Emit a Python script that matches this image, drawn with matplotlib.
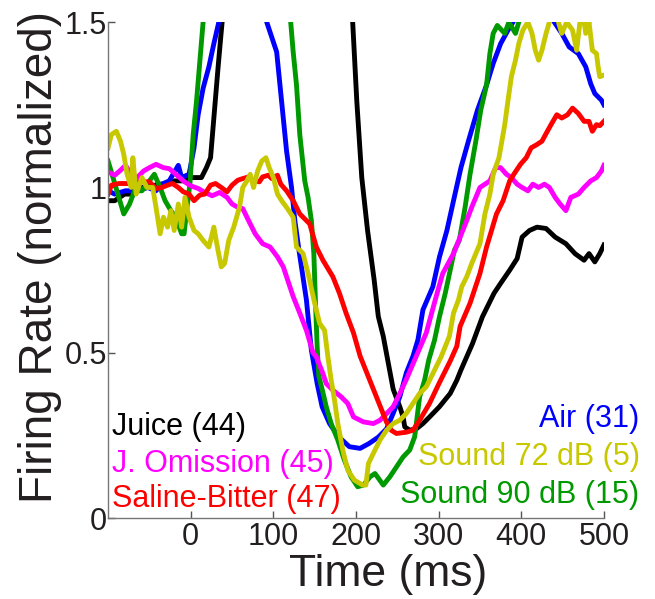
"""
plot.py - normalized firing rate traces for each outcome type.
"""
import matplotlib
matplotlib.use('Agg')  # no display
import matplotlib.pyplot as plt


# Series (time in ms, rate normalized)
juice_t = [-100, -92, -80, -70, -60, -50, -40, -30, -20, -10, 0, 13, 19, 24, 28,
           33, 36, 38, 60, 100, 150, 185, 196, 201, 207, 214, 222, 227, 233, 239,
           245, 253, 257, 259, 265, 273, 281, 289, 301, 314, 322, 327, 341, 353,
           367, 375, 386, 395, 401, 410, 419, 430, 441, 454, 465, 476, 482, 489,
           495, 500]
juice_v = [0.96, 0.96, 0.98, 0.98, 1.0, 1.0, 1.01, 1.01, 1.02, 1.02, 1.03, 1.03,
           1.06, 1.09, 1.21, 1.36, 1.445, 1.5, 1.9, 2.3, 2.3, 1.9, 1.5, 1.26,
           1.03, 0.87, 0.72, 0.61, 0.55, 0.47, 0.39, 0.337, 0.306, 0.276, 0.266,
           0.27, 0.286, 0.306, 0.337, 0.377, 0.417, 0.448, 0.528, 0.609, 0.68,
           0.71, 0.75, 0.785, 0.85, 0.87, 0.88, 0.876, 0.85, 0.83, 0.80, 0.78,
           0.80, 0.775, 0.80, 0.826]

omission_t = [-100, -92, -85, -79, -72, -66, -57, -50, -42, -33, -26, -18, -9, 0,
              9, 17, 26, 35, 44, 50, 57, 63, 70, 78, 87, 96, 105, 112, 116, 124,
              132, 140, 148, 152, 160, 164, 172, 182, 190, 197, 209, 221, 229,
              237, 245, 253, 261, 273, 285, 297, 305, 318, 326, 334, 340, 350,
              362, 369, 375, 382, 388, 395, 401, 408, 414, 421, 428, 434, 441,
              447, 454, 460, 469, 476, 484, 491, 497, 500]
omission_v = [1.047, 1.037, 1.052, 1.067, 1.04, 1.027, 1.05, 1.06, 1.07, 1.06,
              1.057, 1.04, 1.02, 1.005, 0.997, 0.985, 0.975, 0.985, 0.97, 0.95,
              0.94, 0.936, 0.90, 0.86, 0.83, 0.82, 0.79, 0.76, 0.73, 0.67, 0.62,
              0.568, 0.50, 0.488, 0.437, 0.407, 0.387, 0.367, 0.347, 0.306,
              0.291, 0.286, 0.296, 0.316, 0.337, 0.377, 0.42, 0.49, 0.56, 0.67,
              0.74, 0.80, 0.85, 0.90, 0.94, 1.0, 1.02, 1.06, 1.06, 1.04, 1.03,
              1.01, 1.0, 0.99, 1.01, 1.0, 1.01, 1.0, 0.97, 0.95, 0.93, 0.97,
              0.98, 1.0, 1.02, 1.03, 1.05, 1.067]

saline_t = [-100, -96, -87, -74, -61, -50, -42, -35, -28, -22, -15, -9, -2, 4,
            11, 17, 24, 30, 37, 44, 50, 57, 63, 70, 76, 83, 87, 94, 98, 105, 109,
            116, 124, 132, 144, 152, 160, 172, 180, 188, 197, 205, 213, 221, 229,
            237, 243, 249, 261, 269, 277, 289, 301, 314, 322, 326, 338, 350, 358,
            370, 378, 386, 391, 399, 406, 412, 419, 425, 430, 436, 443, 449, 456,
            462, 469, 476, 482, 486, 491, 495, 500]
saline_v = [0.98, 1.007, 1.012, 1.012, 1.017, 1.017, 0.997, 1.0, 1.007, 1.012,
            1.0, 0.987, 0.98, 0.96, 0.977, 0.98, 1.007, 1.012, 1.0, 0.987, 1.007,
            1.022, 1.027, 1.032, 1.022, 1.017, 1.032, 1.037, 1.027, 1.037, 1.01,
            0.99, 0.96, 0.92, 0.89, 0.82, 0.78, 0.73, 0.68, 0.62, 0.56, 0.49,
            0.44, 0.39, 0.34, 0.29, 0.265, 0.256, 0.26, 0.266, 0.296, 0.347,
            0.41, 0.475, 0.52, 0.58, 0.65, 0.74, 0.82, 0.92, 0.96, 1.02, 1.04,
            1.07, 1.09, 1.12, 1.13, 1.14, 1.163, 1.19, 1.22, 1.21, 1.22, 1.24,
            1.224, 1.2, 1.2, 1.17, 1.19, 1.187, 1.2]

air_t = [-100, -92, -79, -65, -52, -42, -35, -26, -15, -11, -2, 4, 9, 15, 22, 28,
         34, 60, 80, 92, 104, 108, 116, 122, 126, 131, 140, 146, 153, 159, 168,
         179, 192, 205, 216, 227, 237, 245, 253, 261, 269, 275, 281, 293, 301,
         310, 318, 327, 336, 347, 358, 366, 375, 384, 390, 410, 430, 440, 449,
         458, 469, 478, 484, 489, 493, 497, 500]
air_v = [0.99, 0.98, 0.99, 0.99, 1.0, 0.99, 1.01, 1.02, 1.067, 1.03, 1.04, 1.12,
         1.22, 1.30, 1.365, 1.435, 1.5, 2.0, 1.9, 1.5, 1.41, 1.31, 1.11, 1.0,
         0.9, 0.81, 0.66, 0.508, 0.407, 0.337, 0.286, 0.246, 0.216, 0.211,
         0.226, 0.245, 0.27, 0.317, 0.367, 0.44, 0.49, 0.54, 0.63, 0.70, 0.79,
         0.87, 0.96, 1.06, 1.14, 1.234, 1.31, 1.375, 1.435, 1.476, 1.5, 1.6,
         1.58, 1.5, 1.466, 1.425, 1.405, 1.365, 1.314, 1.284, 1.274, 1.264,
         1.25]

sound72_t = [-100, -96, -90, -85, -81, -77, -72, -70, -66, -59, -53, -46, -42,
             -37, -33, -28, -24, -20, -15, -11, -7, -2, 4, 9, 15, 22, 28, 33, 37,
             41, 46, 52, 59, 63, 68, 72, 76, 81, 86, 91, 95, 100, 105, 110, 116,
             124, 128, 136, 142, 150, 156, 162, 166, 170, 174, 178, 184, 190, 198,
             208, 212, 215, 221, 229, 237, 245, 253, 261, 269, 277, 285, 293, 303,
             313, 318, 324, 328, 334, 340, 350, 356, 362, 366, 373, 380, 384, 388,
             393, 397, 402, 408, 413, 417, 421, 425, 430, 434, 440, 445, 449, 455,
             462, 467, 471, 475, 478, 482, 486, 491, 493, 495, 500]
sound72_v = [1.12, 1.16, 1.17, 1.14, 1.10, 1.04, 1.0, 1.09, 0.98, 1.03, 1.0, 1.0,
             0.94, 0.86, 0.91, 0.88, 0.93, 0.87, 0.95, 0.88, 0.97, 0.91, 0.87,
             0.86, 0.84, 0.82, 0.88, 0.81, 0.76, 0.77, 0.84, 0.88, 0.94, 1.0,
             1.02, 1.04, 1.0, 1.05, 1.08, 1.09, 1.06, 1.03, 0.98, 0.96, 0.94,
             0.91, 0.82, 0.80, 0.74, 0.65, 0.589, 0.568, 0.488, 0.417, 0.357,
             0.286, 0.206, 0.145, 0.115, 0.10, 0.10, 0.165, 0.196, 0.236, 0.266,
             0.286, 0.296, 0.317, 0.347, 0.377, 0.397, 0.437, 0.488, 0.55, 0.62,
             0.66, 0.70, 0.73, 0.77, 0.83, 0.92, 0.98, 1.04, 1.09, 1.19, 1.264,
             1.335, 1.385, 1.435, 1.476, 1.5, 1.466, 1.415, 1.385, 1.415, 1.466,
             1.5, 1.55, 1.5, 1.466, 1.5, 1.476, 1.415, 1.5, 1.52, 1.466, 1.5,
             1.415, 1.405, 1.365, 1.335, 1.34]

sound90_t = [-100, -94, -87, -81, -74, -68, -59, -50, -44, -37, -31, -24, -18,
             -11, -8, -4.5, -1, 3, 7, 11, 15, 40, 80, 110, 121, 124, 128, 132,
             138, 142, 146, 149, 151, 153, 155, 160, 164, 170, 178, 186, 194, 202,
             209, 217, 223, 233, 241, 249, 257, 265, 271, 273, 277, 283, 288, 295,
             301, 308, 314, 319, 325, 332, 338, 345, 351, 358, 362, 366, 371, 380,
             385, 393, 397, 420, 460, 500]
sound90_v = [1.08, 1.03, 0.97, 0.92, 0.95, 0.99, 0.99, 1.02, 1.04, 1.0, 0.96,
             0.93, 0.91, 0.86, 0.86, 0.94, 1.01, 1.16, 1.26, 1.38, 1.5, 2.0, 2.1,
             1.8, 1.5, 1.41, 1.31, 1.16, 1.02, 0.97, 0.9, 0.8, 0.65, 0.52, 0.43,
             0.38, 0.337, 0.286, 0.236, 0.175, 0.125, 0.095, 0.1, 0.125, 0.135,
             0.10, 0.125, 0.155, 0.185, 0.206, 0.246, 0.286, 0.367, 0.417, 0.478,
             0.538, 0.609, 0.68, 0.75, 0.81, 0.84, 0.94, 1.04, 1.14, 1.234, 1.31,
             1.405, 1.466, 1.49, 1.466, 1.5, 1.466, 1.5, 1.7, 1.8, 1.75]

x_ticks = [0, 100, 200, 300, 400, 500]
y_ticks = [0, 0.5, 1, 1.5]
y_tick_labels = ['0', '0.5', '1', '1.5']

# (label, times, values, colour); left block then right block of labels
LEFT_SERIES = [
    ('Juice (44)', juice_t, juice_v, '#000000'),
    ('J. Omission (45)', omission_t, omission_v, '#FF00FF'),
    ('Saline-Bitter (47)', saline_t, saline_v, '#FF0000'),
]
RIGHT_SERIES = [
    ('Air (31)', air_t, air_v, '#0000FF'),
    ('Sound 72 dB (5)', sound72_t, sound72_v, '#C8C800'),
    ('Sound 90 dB (15)', sound90_t, sound90_v, '#009900'),
]

plt.rcParams['font.family'] = ['Liberation Sans', 'DejaVu Sans']

fig = plt.figure(figsize=(6.55, 5.99), dpi=100)
ax = fig.add_axes([0.165, 0.135, 0.757, 0.828])

draw_order = [LEFT_SERIES[0], RIGHT_SERIES[0], RIGHT_SERIES[2],
              LEFT_SERIES[1], LEFT_SERIES[2], RIGHT_SERIES[1]]
for name, t, v, color in draw_order:
    ax.plot(t, v, color=color, linewidth=3.5, solid_joinstyle='round')

ax.set_xlim(-100, 500)
ax.set_ylim(0, 1.5)
ax.set_xticks(x_ticks)
ax.set_xticklabels([str(x) for x in x_ticks])
ax.set_yticks(y_ticks)
ax.set_yticklabels(y_tick_labels)

for side in ('top', 'right'):
    ax.spines[side].set_visible(False)
for side in ('left', 'bottom'):
    ax.spines[side].set_color('#777777')
    ax.spines[side].set_linewidth(1.0)
ax.tick_params(direction='in', length=5, width=1, color='#555555',
               labelsize=22, labelcolor='#231F20')
ax.tick_params(axis='y', pad=1)
ax.tick_params(axis='x', pad=3)

ax.set_xlabel('Time (ms)', fontsize=32, color='#231F20')
ax.xaxis.set_label_coords(0.565, -0.072)
ax.set_ylabel('Firing Rate (normalized)', fontsize=33, color='#231F20')
ax.yaxis.set_label_coords(-0.092, 0.526)

# curve labels
left_y = [0.167, 0.093, 0.022]
for (name, t, v, color), y in zip(LEFT_SERIES, left_y):
    ax.text(0.008, y, name, color=color, fontsize=22, ha='left',
            va='baseline', transform=ax.transAxes, clip_on=False)
right_y = [0.184, 0.107, 0.031]
for (name, t, v, color), y in zip(RIGHT_SERIES, right_y):
    ax.text(1.072, y, name, color=color, fontsize=22, ha='right',
            va='baseline', transform=ax.transAxes, clip_on=False)

fig.savefig('out.png', dpi=100)
plt.close(fig)
